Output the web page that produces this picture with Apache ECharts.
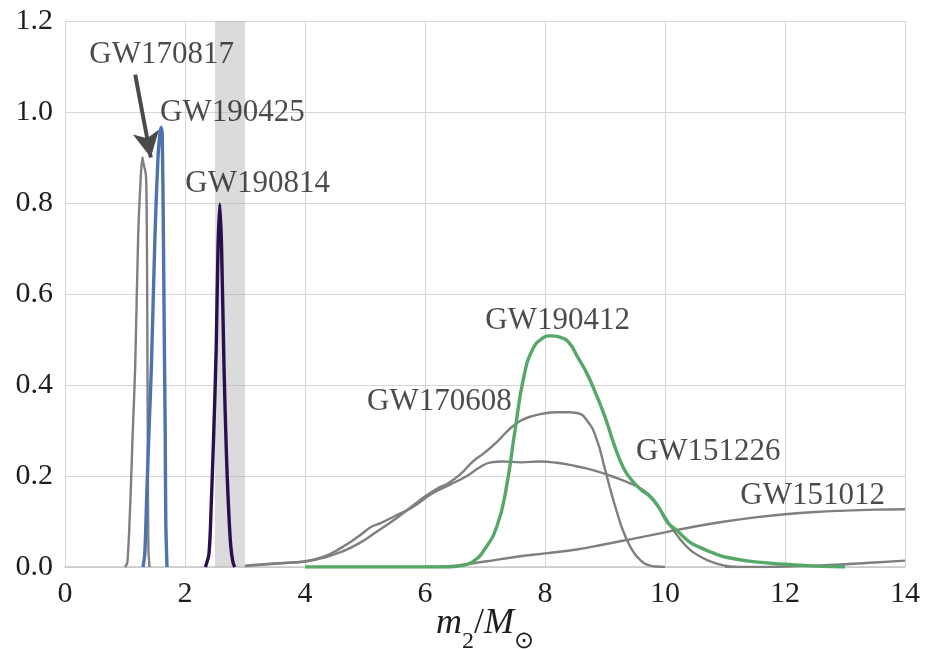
<!DOCTYPE html>
<html>
<head>
<meta charset="utf-8">
<script src="https://cdn.jsdelivr.net/npm/echarts@6/dist/echarts.min.js"></script>
<style>html,body{margin:0;padding:0;background:#fff}#c{width:927px;height:649px}</style>
</head>
<body>
<div id="c"></div>
<script>
// ---- data ----
const xTicks = [0, 2, 4, 6, 8, 10, 12, 14];
const yTicks = [0.0, 0.2, 0.4, 0.6, 0.8, 1.0, 1.2];

const gw170817_x = [1.0, 1.04, 1.09, 1.13, 1.17, 1.22, 1.26, 1.29, 1.31, 1.33, 1.35, 1.36, 1.37, 1.38, 1.39, 1.41];
const gw170817_y = [0.0, 0.01, 0.147, 0.3, 0.44, 0.73, 0.85, 0.9, 0.885, 0.875, 0.86, 0.8, 0.6, 0.25, 0.04, 0.0];

const gw190425_x = [1.3, 1.33, 1.36, 1.40, 1.44, 1.50, 1.55, 1.58, 1.60, 1.62, 1.64, 1.655, 1.67, 1.68, 1.70];
const gw190425_y = [0.0, 0.03, 0.147, 0.3, 0.44, 0.73, 0.9, 0.95, 0.966, 0.95, 0.73, 0.5, 0.3, 0.1, 0.0];

const gw190814_x = [2.34, 2.40, 2.44, 2.48, 2.52, 2.55, 2.58, 2.61, 2.65, 2.69, 2.72, 2.76, 2.80, 2.83];
const gw190814_y = [0.0, 0.03, 0.147, 0.3, 0.48, 0.7, 0.798, 0.7, 0.44, 0.25, 0.147, 0.05, 0.01, 0.0];

const gw170608_x = [3.0, 3.5, 3.8, 4.0, 4.3, 4.6, 4.9, 5.2, 5.5, 5.8, 6.0, 6.2, 6.4, 6.6, 6.8, 7.0, 7.2, 7.4, 7.6, 7.8, 8.0, 8.2, 8.4, 8.55, 8.7, 8.85, 9.0, 9.1, 9.2, 9.3, 9.4, 9.5, 9.6, 9.7, 9.85, 10.0];
const gw170608_y = [0.002, 0.007, 0.01, 0.012, 0.02, 0.033, 0.052, 0.078, 0.105, 0.135, 0.155, 0.172, 0.185, 0.205, 0.232, 0.252, 0.275, 0.302, 0.322, 0.332, 0.338, 0.34, 0.34, 0.338, 0.322, 0.285, 0.215, 0.165, 0.12, 0.08, 0.05, 0.028, 0.014, 0.005, 0.001, 0.0];

const gw151226_x = [3.0, 3.5, 3.8, 4.0, 4.3, 4.6, 4.9, 5.1, 5.25, 5.5, 5.8, 6.1, 6.4, 6.7, 6.9, 7.1, 7.3, 7.6, 7.9, 8.2, 8.5, 8.8, 9.1, 9.4, 9.6, 9.8, 10.0, 10.2, 10.4, 10.6, 10.8, 11.0, 11.2];
const gw151226_y = [0.003, 0.008, 0.01, 0.013, 0.022, 0.042, 0.068, 0.088, 0.096, 0.112, 0.132, 0.16, 0.18, 0.2, 0.218, 0.23, 0.232, 0.23, 0.232, 0.229, 0.222, 0.213, 0.2, 0.185, 0.172, 0.15, 0.11, 0.07, 0.04, 0.022, 0.01, 0.003, 0.0];

const gw190412_x = [4.0, 6.4, 6.6, 6.8, 7.0, 7.2, 7.35, 7.5, 7.65, 7.8, 7.95, 8.1, 8.25, 8.4, 8.55, 8.7, 8.85, 9.0, 9.15, 9.3, 9.45, 9.6, 9.75, 9.9, 10.05, 10.2, 10.4, 10.6, 10.8, 11.0, 11.4, 11.7, 12.0, 12.5, 13.0];
const gw190412_y = [0.0, 0.0, 0.003, 0.012, 0.04, 0.09, 0.17, 0.3, 0.42, 0.48, 0.502, 0.508, 0.505, 0.493, 0.46, 0.425, 0.38, 0.33, 0.27, 0.22, 0.19, 0.17, 0.155, 0.13, 0.097, 0.08, 0.056, 0.042, 0.031, 0.022, 0.013, 0.009, 0.006, 0.002, 0.0];

const gw151012_x = [6.0, 6.5, 7.0, 7.5, 8.0, 8.5, 9.0, 9.5, 10.0, 10.5, 11.0, 11.5, 12.0, 12.5, 13.0, 13.5, 14.0];
const gw151012_y = [0.0, 0.003, 0.012, 0.022, 0.03, 0.038, 0.05, 0.063, 0.076, 0.089, 0.1, 0.109, 0.116, 0.121, 0.124, 0.126, 0.127];

const other_x = [11.0, 11.5, 12.0, 12.5, 13.0, 13.5, 14.0];
const other_y = [0.0, 0.0, 0.001, 0.003, 0.006, 0.01, 0.014];

const labelNames = ['GW170817', 'GW190425', 'GW190814', 'GW190412', 'GW170608', 'GW151226', 'GW151012'];
const labelX = [1.61, 2.79, 3.21, 8.21, 6.24, 10.72, 12.46];
const labelY = [1.125, 0.998, 0.842, 0.542, 0.362, 0.254, 0.156];

const arrowStart = [1.17, 1.082];
const arrowEnd = [1.43, 0.9];
const band = [2.5, 3.0];

// ---- build ----
const zip = (xs, ys) => xs.map((x, i) => [x, ys[i]]);
const GRAY = '#7f7f7f';
const FONT = 'Liberation Serif';

function line(name, xs, ys, color, width, smooth) {
  return {
    name, type: 'line', data: zip(xs, ys), showSymbol: false, symbol: 'none',
    smooth: smooth,
    lineStyle: { color, width }, z: 3, silent: true
  };
}

const series = [
  line('GW170817', gw170817_x, gw170817_y, GRAY, 2.4, 0.3),
  line('GW190425', gw190425_x, gw190425_y, '#4c72b0', 3.4, 0.3),
  line('GW190814', gw190814_x, gw190814_y, '#2a0f4f', 3.4, 0.3),
  line('GW170608', gw170608_x, gw170608_y, GRAY, 2.4, 0.5),
  line('GW151226', gw151226_x, gw151226_y, GRAY, 2.4, 0.5),
  line('GW151012', gw151012_x, gw151012_y, GRAY, 2.4, 0.5),
  line('other', other_x, other_y, GRAY, 2.4, 0.5),
  line('GW190412', gw190412_x, gw190412_y, '#55a868', 3.4, 0.5),
  {
    type: 'scatter', symbolSize: 0, silent: true, z: 5,
    data: labelNames.map((n, i) => ({ value: [labelX[i], labelY[i]], name: n })),
    label: {
      show: true, position: 'inside', formatter: p => p.name,
      fontFamily: FONT, fontSize: 31, color: '#1e1e1e'
    },
    markArea: {
      silent: true, z: 1,
      itemStyle: { color: 'rgba(170,170,170,0.42)' },
      data: [[{ xAxis: band[0] }, { xAxis: band[1] }]]
    },
    markLine: {
      silent: true, symbol: ['none', 'arrow'], symbolSize: [20, 26],
      label: { show: false },
      lineStyle: { color: '#4a4a4a', width: 4, type: 'solid' },
      data: [[{ coord: arrowStart }, { coord: arrowEnd }]]
    }
  }
];

const chart = echarts.init(document.getElementById('c'), null, { renderer: 'canvas' });
chart.setOption({
  animation: false,
  backgroundColor: '#ffffff',
  grid: { left: 65, right: 22, top: 21, bottom: 82, containLabel: false, outerBoundsMode: 'none' },
  xAxis: {
    type: 'value', min: xTicks[0], max: xTicks[xTicks.length - 1], interval: 2,
    axisLine: { show: true, lineStyle: { color: '#c8c8c8', width: 1.5 } },
    axisTick: { show: false },
    splitLine: { show: true, lineStyle: { color: '#d6d6d6', width: 1 } },
    axisLabel: { fontFamily: FONT, fontSize: 30, color: '#1e1e1e', margin: 12 },
    name: '{i|m}{s|2}{n|/}{i|M}{s|⊙}', nameLocation: 'middle', nameGap: 39,
    nameMoveOverlap: false,
    nameTextStyle: {
      verticalAlign: 'top',
      rich: {
        i: { fontFamily: FONT, fontStyle: 'italic', fontSize: 36, color: '#1e1e1e', lineHeight: 48, verticalAlign: 'top' },
        n: { fontFamily: FONT, fontSize: 36, color: '#1e1e1e', lineHeight: 48, verticalAlign: 'top' },
        s: { fontFamily: FONT, fontSize: 24, color: '#1e1e1e', lineHeight: 24, verticalAlign: 'bottom' }
      }
    }
  },
  yAxis: {
    type: 'value', min: yTicks[0], max: yTicks[yTicks.length - 1], interval: 0.2,
    axisLine: { show: false },
    axisTick: { show: false },
    splitLine: { show: true, lineStyle: { color: '#d6d6d6', width: 1 } },
    axisLabel: { fontFamily: FONT, fontSize: 30, color: '#1e1e1e', margin: 12, formatter: v => v.toFixed(1) }
  },
  series
});
</script>
</body>
</html>
